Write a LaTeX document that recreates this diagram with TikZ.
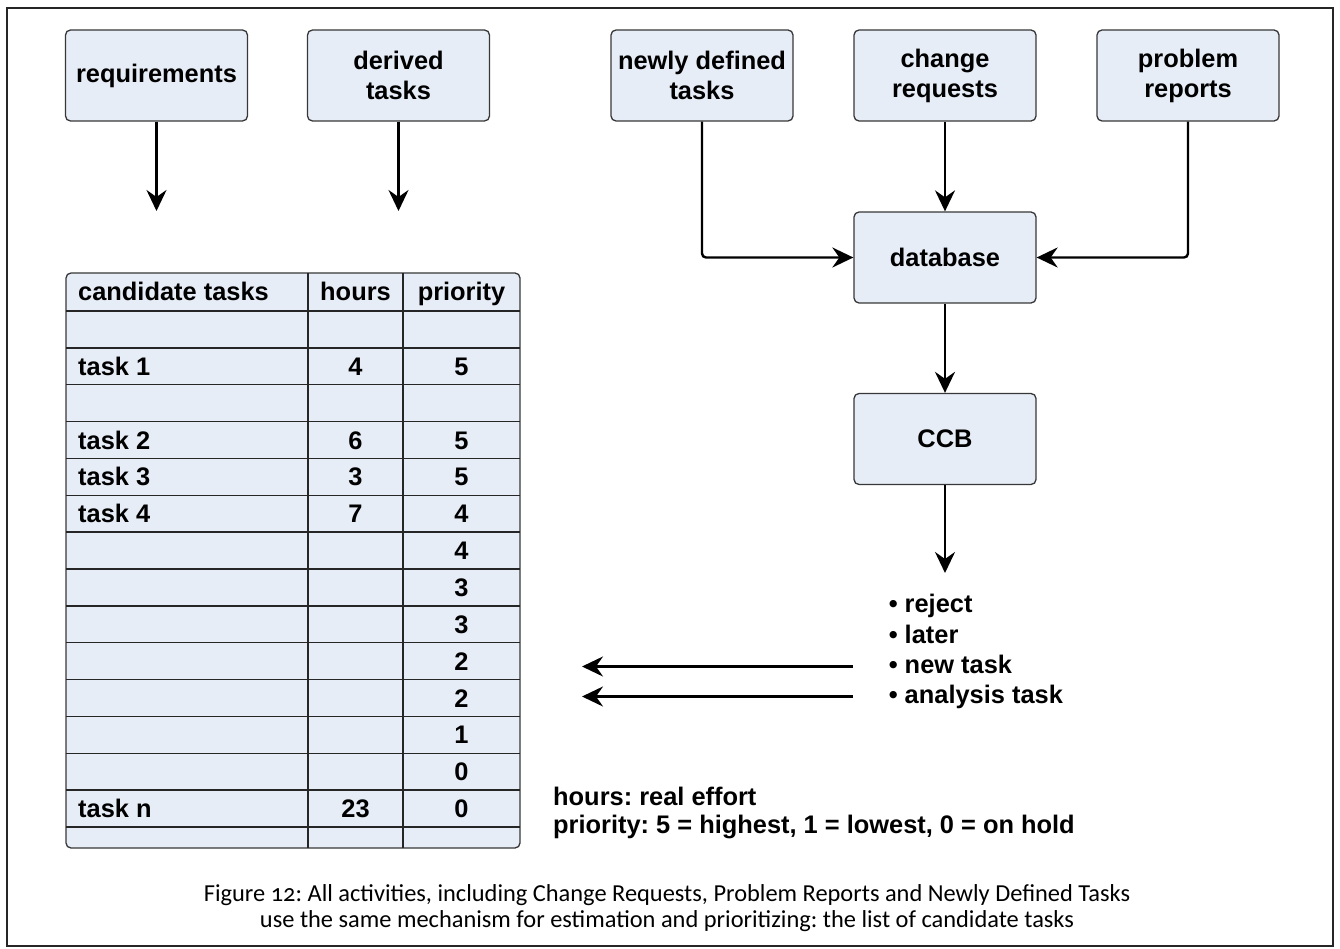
\documentclass[tikz,border=0pt]{standalone}
\usepackage{fontspec}
\setmainfont{Liberation Sans}
\newfontfamily\capfont[Numbers=OldStyle]{Carlito}
\usetikzlibrary{arrows.meta}
\definecolor{boxfill}{RGB}{231,237,247}
\definecolor{edge}{RGB}{55,55,55}
\frenchspacing

\begin{document}
\begin{tikzpicture}[x=1pt,y=-1pt,
  box/.style={draw=edge, line width=1.3pt, fill=boxfill, rounded corners=5pt,
    minimum width=182pt, minimum height=91pt, inner sep=0pt, align=center,
    font=\fontsize{25.4}{30}\selectfont\bfseries},
  flow/.style={line width=2.4pt, -{Stealth[length=21pt,width=20pt,inset=7pt]}},
  cell/.style={inner sep=0pt, anchor=base, font=\fontsize{25.4}{30}\selectfont\bfseries},
  item/.style={inner sep=0pt, anchor=base west, text height=18pt, text depth=5pt,
    font=\fontsize{25.4}{30}\selectfont\bfseries},
  grid/.style={draw=black!85, line width=1.3pt},
]
\useasboundingbox (0,0) rectangle (1340,949);
% outer frame
\draw[line width=2pt, draw=black!85] (7,8) rectangle (1333,946);

% sources
\node[box] (req) at (156.5,75.5) {requirements};
\node[box] (der) at (398.5,75.5) {derived\\tasks};
\node[box] (new) at (702,75.5) {newly defined\\tasks};
\node[box] (chg) at (945,75.5) {change\\requests};
\node[box] (prb) at (1188,75.5) {problem\\reports};
\node[box] (db)  at (945,257.5) {database};
\node[box] (ccb) at (945,439) {CCB};

% free arrow ends
\coordinate (reqin) at (156.5,211);
\coordinate (derin) at (398.5,211);
\coordinate (ccbout) at (945,573);

\draw[flow] (req.south) -- (reqin);
\draw[flow] (der.south) -- (derin);
\draw[flow] (chg.south) -- (db.north);
\draw[flow, rounded corners=4pt] (new.south) |- (db.west);
\draw[flow, rounded corners=4pt] (prb.south) |- (db.east);
\draw[flow] (db.south) -- (ccb.north);
\draw[flow] (ccb.south) -- (ccbout);

% candidate task table
\filldraw[fill=boxfill, draw=edge, line width=1.3pt, rounded corners=5pt]
  (66,273) rectangle (520,848);
\foreach \i in {0,...,14}
  \draw[grid] (66,{311+\i*36.857}) -- (520,{311+\i*36.857});
\draw[grid] (308,273) -- (308,848);
\draw[grid] (403,273) -- (403,848);

\node[cell, anchor=base west] (htask) at (78,301) {candidate tasks};
\node[cell] (hhours) at (355.5,301) {hours};
\node[cell] (hprio) at (461.5,301) {priority};

\foreach \k/\t/\h in {1/task 1/4, 3/task 2/6, 4/task 3/3, 5/task 4/7, 13/task n/23} {
  \node[cell, anchor=base west] (task\k) at (78,{311+36.857*(\k+0.5)+9}) {\t};
  \node[cell] (hrs\k) at (355.5,{311+36.857*(\k+0.5)+9}) {\h};
}
\foreach \k/\p in {1/5, 3/5, 4/5, 5/4, 6/4, 7/3, 8/3, 9/2, 10/2, 11/1, 12/0, 13/0}
  \node[cell] (pri\k) at (461.5,{311+36.857*(\k+0.5)+9}) {\p};

% CCB outcomes
\node[item] (rej) at (888.6,612) {• reject};
\node[item] (lat) at (888.6,643) {• later};
\node[item] (ntk) at (888.6,673) {• new task};
\node[item] (ana) at (888.6,703) {• analysis task};

\coordinate (ntkin) at (582,666);
\coordinate (anain) at (582,697);
\draw[flow] ([xshift=-35.6pt]ntk.west) -- (ntkin |- ntk.west);
\draw[flow] ([xshift=-35.6pt]ana.west) -- (anain |- ana.west);

% legend
\node[item] (leg1) at (553,805) {hours: real effort};
\node[item] (leg2) at (553,833) {priority: 5 = highest, 1 = lowest, 0 = on hold};

% caption
\node[inner sep=0pt, align=center, font=\capfont\fontsize{24.4}{26}\selectfont]
  (cap) at (667,908)
  {Figure 12: All activities, including Change Requests, Problem Reports and Newly Defined Tasks\\
   use the same mechanism for estimation and prioritizing: the list of candidate tasks};
\end{tikzpicture}
\end{document}
